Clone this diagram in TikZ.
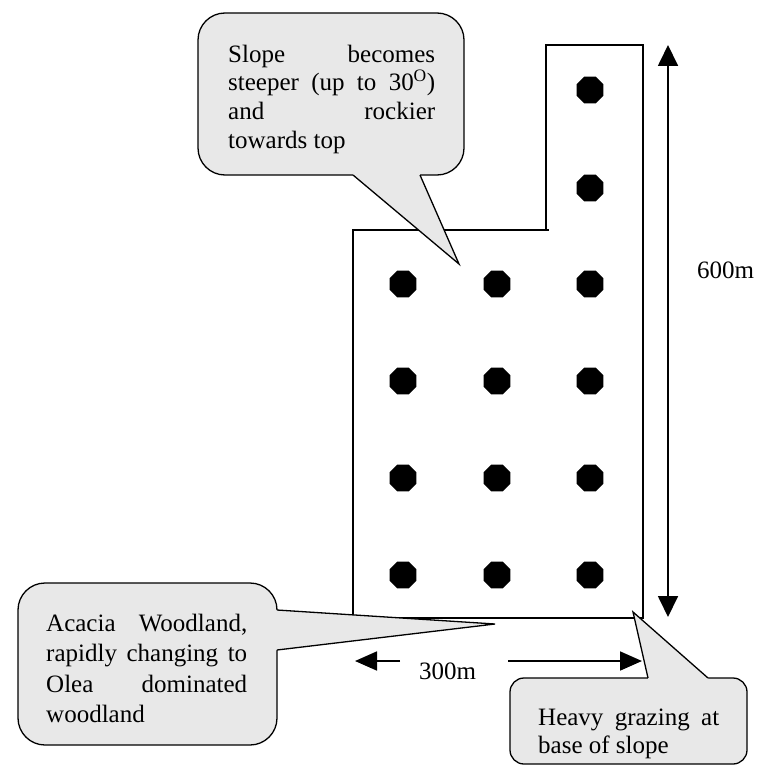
\documentclass[tikz,border=0pt]{standalone}
\usepackage{fontspec}
\setmainfont{Liberation Serif}
\usetikzlibrary{arrows.meta,shapes.geometric}
\begin{document}
\begin{tikzpicture}[x=1pt,y=-1pt,
  outline/.style={draw=black,line width=1.4pt,line join=miter},
  dot/.style={regular polygon,regular polygon sides=8,fill=black,draw=none,minimum size=29.2pt,inner sep=0pt},
  dimline/.style={line width=1.8pt},
  cbox/.style={fill=black!9,draw=black,line width=1.3pt},
  cfill/.style={fill=black!9,draw=none},
  cedge/.style={draw=black,line width=1.3pt,line join=miter},
  txt/.style={inner sep=0pt,anchor=base west,font=\fontsize{25pt}{28.3pt}\selectfont},
]
\useasboundingbox (0,0) rectangle (757,765);

% site outline
\draw[outline] (353,618) -- (353,230) -- (546,230) -- (546,45) -- (643,45) -- (643,618) -- cycle;
\draw[outline] (546,230) -- (548.5,230);

% sampling points
\foreach \x [count=\i] in {403,497,590}{
  \foreach \y [count=\j] in {284,381,478,575}{
    \node[dot] (d-\i-\j) at (\x,\y) {};
  }
}
\node[dot] (d-3-a) at (590,90) {};
\node[dot] (d-3-b) at (590,188) {};

% 600 m dimension
\coordinate (vtop) at (668,45);
\coordinate (vbot) at (668,617);
\draw[dimline,{Triangle[length=21pt,width=20pt]}-{Triangle[length=21pt,width=20pt]}] (vbot) -- (vtop);
\node[txt] (l600) at (697,278) {600m};

% 300 m dimension
\coordinate (hl0) at (400,661);
\coordinate (hl1) at (355,661);
\coordinate (hr0) at (508,661);
\coordinate (hr1) at (642,661);
\draw[dimline,-{Triangle[length=22pt,width=19pt]}] (hl0) -- (hl1);
\draw[dimline,-{Triangle[length=22pt,width=19pt]}] (hr0) -- (hr1);
\node[txt] (l300) at (419,679) {300m};

% top callout
\draw[cbox,rounded corners=27pt] (198,13) rectangle (464,175);
\fill[cfill] (353,171) -- (353,175) -- (459,264) -- (420,175) -- (420,171) -- cycle;
\draw[cedge] (353,175) -- (459,264) -- (420,175);
\node[txt] (ta) at (228,62.5) {\makebox[207pt][s]{Slope becomes}};
\node[txt] (tb) at (228,91) {\makebox[207pt][s]{steeper (up to 30\textsuperscript{O})}};
\node[txt] (tc) at (228,119.5) {\makebox[207pt][s]{and rockier}};
\node[txt] (td) at (228,148) {towards top};

% left callout
\draw[cbox,rounded corners=27pt] (18,583) rectangle (277,745);
\fill[cfill] (273,610) -- (277,610) -- (495,624) -- (277,650) -- (273,650) -- cycle;
\draw[cedge] (277,610) -- (495,624) -- (277,650);
\node[txt] (la) at (46,631) {\makebox[201pt][s]{Acacia Woodland,}};
\node[txt] (lb) at (46,661.5) {\makebox[201pt][s]{rapidly changing to}};
\node[txt] (lc) at (46,692) {\makebox[201pt][s]{Olea dominated}};
\node[txt] (ld) at (46,722.5) {woodland};

% bottom-right callout
\draw[cbox,rounded corners=14pt] (510,678) rectangle (747,764);
\fill[cfill] (648,682) -- (648,678) -- (633,612) -- (708,678) -- (708,682) -- cycle;
\draw[cedge] (648,678) -- (633,612) -- (708,678);
\node[txt] (ra) at (538,725) {\makebox[181pt][s]{Heavy grazing at}};
\node[txt] (rb) at (538,753) {base of slope};
\end{tikzpicture}
\end{document}
